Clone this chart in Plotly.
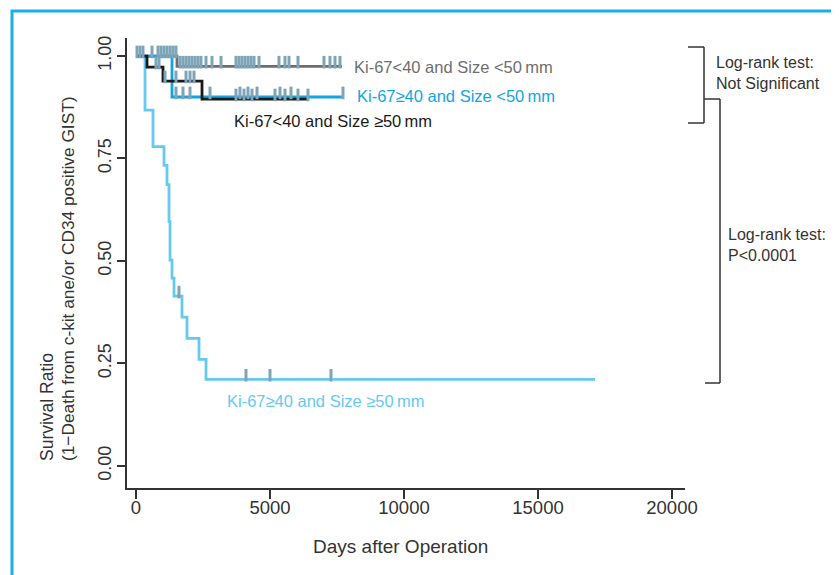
import plotly.graph_objects as go

# ---------------- data ----------------
# Kaplan-Meier steps (days, survival ratio)
g1_name = "Ki-67&lt;40 and Size &lt;50\u2009mm"
g1_t = [0, 1530, 7686]
g1_s = [1.0, 0.975, 0.975]
g1_ct = [37, 149, 261, 597, 821, 933, 1045, 1157, 1269, 1380, 1492,
         1642, 1754, 1866, 1977, 2089, 2201, 2313, 2425, 2612, 2836, 3171,
         3731, 3843, 3955, 4067, 4179, 4291, 4403, 4589, 5335, 5559, 5708,
         6044, 7014, 7238, 7425, 7611]
g1_cs = [1.0] * 11 + [0.975] * 27

g2_name = "Ki-67\u226540 and Size &lt;50\u2009mm"
g2_t = [0, 1343, 7723]
g2_s = [1.0, 0.90, 0.90]
g2_ct = [1492, 1754, 2015, 2761, 3880, 4179, 4515, 5373, 5783, 7723]
g2_cs = [0.90] * 10

g3_name = "Ki-67&lt;40 and Size \u226550\u2009mm"
g3_t = [0, 410, 1007, 2463, 6417]
g3_s = [1.0, 0.973, 0.939, 0.895, 0.895]
g3_ct = [746, 858, 1082, 1492, 1866, 2015, 2164, 3731, 4030, 4328, 5186,
         5559, 6044, 6417]
g3_cs = [0.973, 0.973, 0.939, 0.939, 0.939, 0.939, 0.939] + [0.895] * 7

g4_name = "Ki-67\u226540 and Size \u226550\u2009mm"
g4_t = [0, 336, 634, 1045, 1157, 1231, 1269, 1343, 1418, 1716, 1903, 2351,
        2612, 17126]
g4_s = [1.0, 0.868, 0.779, 0.733, 0.686, 0.596, 0.502, 0.458, 0.414, 0.363,
        0.311, 0.260, 0.211, 0.211]
g4_ct = [1604, 4104, 5000, 7276]
g4_cs = [0.414, 0.211, 0.211, 0.211]

x_ticks = [0, 5000, 10000, 15000, 20000]
x_ticktext = ["0", "5000", "10000", "15000", "20000"]
y_ticks = [0.0, 0.25, 0.5, 0.75, 1.0]
y_ticktext = ["0.00", "0.25", "0.50", "0.75", "1.00"]

# ---------------- layout helpers ----------------
W, H = 839, 575
OFF = 8  # page body margin
PL, PR, PT, PB = 127, 685, 38, 488


def px(x):
    return (x - PL) / (PR - PL)


def py(y):
    return (PB - y) / (PB - PT)


FONT = "Liberation Sans, Arial, Helvetica, sans-serif"
C_GRAY = "#6e6e6e"
C_BLUE = "#12a6e0"
C_BLACK = "#1a1a1a"
C_LBLUE = "#66c9f0"
C_CENS = "#7ea4b8"
C_AXIS = "#333333"

fig = go.Figure()

series = [
    (g4_t, g4_s, g4_ct, g4_cs, C_LBLUE),
    (g1_t, g1_s, g1_ct, g1_cs, C_GRAY),
    (g2_t, g2_s, g2_ct, g2_cs, C_BLUE),
    (g3_t, g3_s, g3_ct, g3_cs, C_BLACK),
]
for t, s, ct, cs, col in series:
    fig.add_trace(go.Scatter(x=t, y=s, mode="lines", line=dict(color=col, width=2.8, shape="hv"),
                             showlegend=False, hoverinfo="skip"))
for t, s, ct, cs, col in series:
    fig.add_trace(go.Scatter(x=ct, y=[v + 0.01 for v in cs], mode="markers",
                             marker=dict(symbol="line-ns", size=9,
                                         line=dict(color=C_CENS, width=3)),
                             showlegend=False, hoverinfo="skip"))

fig.update_layout(
    width=W, height=H, autosize=False,
    margin=dict(l=PL - OFF, r=W - (PR - OFF), t=PT - OFF, b=H - (PB - OFF), pad=0),
    paper_bgcolor="white", plot_bgcolor="white",
    font=dict(family=FONT, color=C_AXIS, size=18),
    xaxis=dict(range=[-336, 20485], tickvals=x_ticks, ticktext=x_ticktext,
               ticks="outside", ticklen=9, tickwidth=1.5, tickcolor=C_AXIS,
               showline=True, linecolor=C_AXIS, linewidth=1.5, ticklabelstandoff=-7,
               showgrid=False, zeroline=False, tickfont=dict(size=18.5)),
    yaxis=dict(range=[-0.054, 1.044], tickvals=y_ticks, ticktext=y_ticktext,
               ticks="outside", ticklen=8, tickwidth=1.5, tickangle=-90,
               tickcolor=C_AXIS, ticklabelstandoff=-1,
               showline=True, linecolor=C_AXIS, linewidth=1.5,
               showgrid=False, zeroline=False, tickfont=dict(size=18)),
)

ann = []
# axis titles
ann.append(dict(x=px(400), y=py(546), xref="paper", yref="paper", text="Days after Operation",
                showarrow=False, xanchor="center", yanchor="middle", font=dict(size=19)))
ann.append(dict(x=px(47), y=py(463), xref="paper", yref="paper", text="Survival Ratio",
                showarrow=False, textangle=-90, xanchor="center", yanchor="bottom",
                font=dict(size=17.5)))
ann.append(dict(x=px(68), y=py(463), xref="paper", yref="paper",
                text="(1\u2212Death from c-kit ane/or CD34 positive GIST)",
                showarrow=False, textangle=-90, xanchor="center", yanchor="bottom",
                font=dict(size=17.3)))
# curve labels
for name, x0, y0, col in [(g1_name, 352, 67, C_GRAY), (g2_name, 355, 96, C_BLUE),
                          (g3_name, 232, 121, C_BLACK), (g4_name, 225, 401, C_LBLUE)]:
    ann.append(dict(x=px(x0), y=py(y0), xref="paper", yref="paper", text=name,
                    showarrow=False, xanchor="left", yanchor="middle",
                    font=dict(size=16.5, color=col)))
# log-rank texts
ann.append(dict(x=px(714), y=py(73), xref="paper", yref="paper",
                text="Log-rank test:<br>Not Significant", showarrow=False,
                xanchor="left", yanchor="middle", align="left", font=dict(size=16)))
ann.append(dict(x=px(726), y=py(245), xref="paper", yref="paper",
                text="Log-rank test:<br>P&lt;0.0001", showarrow=False,
                xanchor="left", yanchor="middle", align="left", font=dict(size=16)))
fig.update_layout(annotations=ann)

shapes = []
br = [((688, 47), (704, 47)), ((704, 47), (704, 123)), ((688, 123), (704, 123)),
      ((704, 99), (720, 99)), ((720, 99), (720, 383)), ((705, 383), (720, 383))]
for (xa, ya), (xb, yb) in br:
    shapes.append(dict(type="line", xref="paper", yref="paper", x0=px(xa), y0=py(ya),
                       x1=px(xb), y1=py(yb), line=dict(color=C_AXIS, width=1.5)))
# outer frame
shapes.append(dict(type="rect", xref="paper", yref="paper", x0=px(12), y0=py(700),
                   x1=px(950), y1=py(11), line=dict(color="#1aaeeb", width=3),
                   fillcolor="rgba(0,0,0,0)"))
fig.update_layout(shapes=shapes)

fig.write_html("out.html")
